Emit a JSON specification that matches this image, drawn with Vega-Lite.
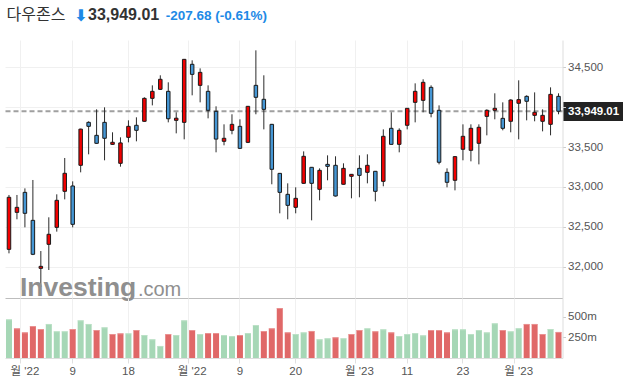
{
  "$schema": "https://vega.github.io/schema/vega-lite/v6.json",
  "padding": {"left": 4, "top": 6, "right": 0, "bottom": 0},
  "background": "white",
  "bounds": "flush",
  "spacing": 0,
  "config": {
    "view": {"stroke": null},
    "font": "Liberation Sans",
    "scale": {"bandPaddingInner": 0, "bandPaddingOuter": 0},
    "axis": {"labelFont": "Liberation Sans", "titleFont": "Liberation Sans"}
  },
  "datasets": {
    "ohlcv": [
      {"date": "2022-10-28", "open": 32217, "high": 32899, "low": 32167, "close": 32870, "volume": 469},
      {"date": "2022-10-31", "open": 32681, "high": 32899, "low": 32594, "close": 32744, "volume": 360},
      {"date": "2022-11-01", "open": 32932, "high": 32982, "low": 32493, "close": 32669, "volume": 311},
      {"date": "2022-11-02", "open": 32581, "high": 33087, "low": 32145, "close": 32155, "volume": 388},
      {"date": "2022-11-03", "open": 31979, "high": 32196, "low": 31745, "close": 32004, "volume": 352},
      {"date": "2022-11-04", "open": 32280, "high": 32619, "low": 31958, "close": 32406, "volume": 413},
      {"date": "2022-11-07", "open": 32493, "high": 32907, "low": 32439, "close": 32832, "volume": 324},
      {"date": "2022-11-08", "open": 32945, "high": 33363, "low": 32844, "close": 33171, "volume": 324},
      {"date": "2022-11-09", "open": 33012, "high": 33070, "low": 32493, "close": 32531, "volume": 352},
      {"date": "2022-11-10", "open": 33271, "high": 33730, "low": 33183, "close": 33725, "volume": 457},
      {"date": "2022-11-11", "open": 33810, "high": 33823, "low": 33409, "close": 33760, "volume": 413},
      {"date": "2022-11-14", "open": 33647, "high": 33973, "low": 33540, "close": 33547, "volume": 340},
      {"date": "2022-11-15", "open": 33810, "high": 33998, "low": 33334, "close": 33610, "volume": 372},
      {"date": "2022-11-16", "open": 33534, "high": 33685, "low": 33528, "close": 33560, "volume": 291},
      {"date": "2022-11-17", "open": 33296, "high": 33622, "low": 33254, "close": 33552, "volume": 299},
      {"date": "2022-11-18", "open": 33622, "high": 33835, "low": 33559, "close": 33760, "volume": 299},
      {"date": "2022-11-21", "open": 33773, "high": 33873, "low": 33572, "close": 33710, "volume": 340},
      {"date": "2022-11-22", "open": 33823, "high": 34124, "low": 33818, "close": 34111, "volume": 279},
      {"date": "2022-11-23", "open": 34111, "high": 34274, "low": 34023, "close": 34199, "volume": 227},
      {"date": "2022-11-25", "open": 34224, "high": 34400, "low": 34216, "close": 34350, "volume": 146},
      {"date": "2022-11-28", "open": 34199, "high": 34312, "low": 33810, "close": 33855, "volume": 291},
      {"date": "2022-11-29", "open": 33835, "high": 33936, "low": 33672, "close": 33862, "volume": 279},
      {"date": "2022-11-30", "open": 33810, "high": 34605, "low": 33597, "close": 34600, "volume": 457},
      {"date": "2022-12-01", "open": 34538, "high": 34588, "low": 34149, "close": 34412, "volume": 340},
      {"date": "2022-12-02", "open": 34274, "high": 34487, "low": 34061, "close": 34437, "volume": 291},
      {"date": "2022-12-05", "open": 34199, "high": 34274, "low": 33860, "close": 33961, "volume": 303},
      {"date": "2022-12-06", "open": 33948, "high": 34011, "low": 33434, "close": 33600, "volume": 303},
      {"date": "2022-12-07", "open": 33572, "high": 33785, "low": 33522, "close": 33610, "volume": 279},
      {"date": "2022-12-08", "open": 33710, "high": 33911, "low": 33660, "close": 33785, "volume": 267},
      {"date": "2022-12-09", "open": 33760, "high": 33848, "low": 33476, "close": 33484, "volume": 279},
      {"date": "2022-12-12", "open": 33559, "high": 34015, "low": 33550, "close": 34011, "volume": 303},
      {"date": "2022-12-13", "open": 34274, "high": 34713, "low": 33911, "close": 34124, "volume": 400},
      {"date": "2022-12-14", "open": 34099, "high": 34400, "low": 33722, "close": 33973, "volume": 328},
      {"date": "2022-12-15", "open": 33785, "high": 33790, "low": 33033, "close": 33221, "volume": 360},
      {"date": "2022-12-16", "open": 33170, "high": 33175, "low": 32669, "close": 32932, "volume": 607},
      {"date": "2022-12-19", "open": 32907, "high": 33045, "low": 32594, "close": 32769, "volume": 311},
      {"date": "2022-12-20", "open": 32744, "high": 32995, "low": 32669, "close": 32857, "volume": 291},
      {"date": "2022-12-21", "open": 33045, "high": 33446, "low": 33040, "close": 33384, "volume": 311},
      {"date": "2022-12-22", "open": 33246, "high": 33250, "low": 32581, "close": 33045, "volume": 328},
      {"date": "2022-12-23", "open": 32970, "high": 33233, "low": 32832, "close": 33208, "volume": 227},
      {"date": "2022-12-27", "open": 33283, "high": 33396, "low": 33083, "close": 33258, "volume": 239},
      {"date": "2022-12-28", "open": 33271, "high": 33384, "low": 32880, "close": 32886, "volume": 251},
      {"date": "2022-12-29", "open": 33033, "high": 33296, "low": 33030, "close": 33233, "volume": 239},
      {"date": "2022-12-30", "open": 33133, "high": 33162, "low": 32857, "close": 33158, "volume": 291},
      {"date": "2023-01-03", "open": 33233, "high": 33396, "low": 32870, "close": 33145, "volume": 340},
      {"date": "2023-01-04", "open": 33183, "high": 33409, "low": 33045, "close": 33271, "volume": 360},
      {"date": "2023-01-05", "open": 33196, "high": 33200, "low": 32819, "close": 32945, "volume": 324},
      {"date": "2023-01-06", "open": 33070, "high": 33722, "low": 33008, "close": 33635, "volume": 348},
      {"date": "2023-01-09", "open": 33735, "high": 33936, "low": 33530, "close": 33534, "volume": 311},
      {"date": "2023-01-10", "open": 33534, "high": 33735, "low": 33434, "close": 33710, "volume": 267},
      {"date": "2023-01-11", "open": 33773, "high": 33990, "low": 33722, "close": 33986, "volume": 291},
      {"date": "2023-01-12", "open": 34061, "high": 34299, "low": 33810, "close": 34199, "volume": 303},
      {"date": "2023-01-13", "open": 34086, "high": 34350, "low": 33936, "close": 34312, "volume": 275},
      {"date": "2023-01-17", "open": 34249, "high": 34274, "low": 33873, "close": 33923, "volume": 340},
      {"date": "2023-01-18", "open": 33961, "high": 34023, "low": 33283, "close": 33309, "volume": 340},
      {"date": "2023-01-19", "open": 33183, "high": 33233, "low": 32995, "close": 33058, "volume": 311},
      {"date": "2023-01-20", "open": 33083, "high": 33384, "low": 32957, "close": 33380, "volume": 348},
      {"date": "2023-01-23", "open": 33472, "high": 33785, "low": 33334, "close": 33635, "volume": 348},
      {"date": "2023-01-24", "open": 33459, "high": 33785, "low": 33321, "close": 33735, "volume": 291},
      {"date": "2023-01-25", "open": 33547, "high": 33785, "low": 33283, "close": 33748, "volume": 340},
      {"date": "2023-01-26", "open": 33885, "high": 33973, "low": 33647, "close": 33961, "volume": 311},
      {"date": "2023-01-27", "open": 33961, "high": 34174, "low": 33848, "close": 33986, "volume": 421},
      {"date": "2023-01-30", "open": 33860, "high": 34061, "low": 33710, "close": 33735, "volume": 340},
      {"date": "2023-01-31", "open": 33823, "high": 34099, "low": 33685, "close": 34090, "volume": 324},
      {"date": "2023-02-01", "open": 34049, "high": 34337, "low": 33597, "close": 34095, "volume": 360},
      {"date": "2023-02-02", "open": 34136, "high": 34149, "low": 33835, "close": 34074, "volume": 413},
      {"date": "2023-02-03", "open": 33898, "high": 34186, "low": 33823, "close": 33936, "volume": 413},
      {"date": "2023-02-06", "open": 33823, "high": 33973, "low": 33697, "close": 33898, "volume": 291},
      {"date": "2023-02-07", "open": 33785, "high": 34249, "low": 33647, "close": 34161, "volume": 352},
      {"date": "2023-02-08", "open": 34136, "high": 34174, "low": 33911, "close": 33949.01, "volume": 316}
    ]
  },
  "data": {"name": "ohlcv"},
  "vconcat": [
    {
      "width": 557.5,
      "height": 258,
      "resolve": {"axis": {"x": "independent", "y": "independent"}},
      "layer": [
        {
          "transform": [{"filter": "datum.date == '2023-02-08'"}],
          "mark": {"type": "rule", "strokeDash": [5, 3], "strokeWidth": 2, "color": "#a0a0a0"},
          "encoding": {
            "y": {
              "field": "close", "type": "quantitative",
              "scale": {"domain": [31606.9, 34842.8], "nice": false, "zero": false},
              "axis": {
                "orient": "right", "values": [33949.01], "format": ",.2f",
                "grid": false, "domain": false,
                "tickSize": 60, "tickWidth": 19, "tickColor": "#222222", "tickCap": "butt",
                "labelColor": "#ffffff", "labelFontSize": 11.5, "labelFontWeight": "bold",
                "labelPadding": -55, "labelAlign": "left", "labelBaseline": "middle",
                "title": "33,949.01", "titleX": -475, "titleY": -21, "titleAngle": 0,
                "titleAlign": "left", "titleBaseline": "alphabetic",
                "titleColor": "#333333", "titleFontSize": 16, "titleFontWeight": "bold"
              }
            }
          }
        },
        {
          "mark": {"type": "rule", "color": "#2b2b2b", "strokeWidth": 1},
          "encoding": {
            "x": {
              "field": "date", "type": "ordinal",
              "axis": {
                "orient": "bottom",
                "values": ["2022-11-01", "2022-12-01", "2023-01-03", "2023-02-01"],
                "bandPosition": 0, "labels": false, "ticks": false,
                "grid": true, "gridColor": "#f0f0f0",
                "domain": true, "domainColor": "#bdbdbd",
                "title": "다우존스", "titleX": 1, "titleY": -279, "titleAngle": 0,
                "titleAlign": "left", "titleBaseline": "alphabetic",
                "titleFont": "Noto Sans CJK KR", "titleFontSize": 16,
                "titleFontWeight": "normal", "titleColor": "#333333"
              }
            },
            "y": {
              "field": "low", "type": "quantitative",
              "axis": {
                "orient": "right", "values": [32000, 32500, 33000, 33500, 34000, 34500],
                "labelExpr": "datum.value == 34000 ? '' : format(datum.value, ',')",
                "grid": true, "gridColor": "#f0f0f0",
                "tickSize": 3, "tickColor": "#cccccc", "domainColor": "#dddddd",
                "labelColor": "#555555", "labelFontSize": 11.5, "labelPadding": 2,
                "title": "⬇", "titleX": -489, "titleY": -20, "titleAngle": 0,
                "titleAlign": "left", "titleBaseline": "alphabetic",
                "titleFont": "DejaVu Sans", "titleFontSize": 16, "titleFontWeight": "bold",
                "titleColor": "#1e8ae6"
              }
            },
            "y2": {"field": "high"}
          }
        },
        {
          "mark": {"type": "bar", "size": 3.5, "stroke": "#1a1a1a", "strokeWidth": 1},
          "encoding": {
            "x": {
              "field": "date", "type": "ordinal",
              "axis": {
                "orient": "bottom",
                "values": ["2022-11-09", "2022-11-18", "2022-12-09", "2022-12-20", "2023-01-11", "2023-01-23"],
                "bandPosition": 0.5, "labels": false, "ticks": false, "domain": false,
                "grid": true, "gridColor": "#f0f0f0", "title": null
              }
            },
            "y": {"field": "open", "type": "quantitative", "axis": null},
            "y2": {"field": "close"},
            "color": {"condition": {"test": "datum.close >= datum.open", "value": "#f20000"}, "value": "#4596d4"}
          }
        },
        {
          "transform": [{"filter": "datum.date == '2022-10-31'"}],
          "mark": {"type": "text", "text": "Investing", "font": "Liberation Sans", "fontSize": 26.5, "fontWeight": "bold", "color": "#8f8f8f", "align": "left", "baseline": "alphabetic", "dx": 3},
          "encoding": {
            "x": {"field": "date", "type": "ordinal", "axis": null},
            "y": {"datum": 31626, "type": "quantitative", "axis": null}
          }
        },
        {
          "transform": [{"filter": "datum.date == '2022-11-22'"}],
          "mark": {"type": "text", "text": ".com", "font": "Liberation Sans", "fontSize": 20, "color": "#8f8f8f", "align": "left", "baseline": "alphabetic", "dx": -6.5},
          "encoding": {
            "x": {"field": "date", "type": "ordinal", "axis": null},
            "y": {"datum": 31626, "type": "quantitative", "axis": null}
          }
        }
      ]
    },
    {
      "width": 557.5,
      "height": 60,
      "transform": [
        {"window": [{"op": "lag", "field": "close", "as": "prevClose"}], "sort": [{"field": "date", "order": "ascending"}]}
      ],
      "resolve": {"axis": {"x": "independent", "y": "independent"}},
      "layer": [
        {
          "mark": {"type": "bar", "size": 6},
          "encoding": {
            "x": {
              "field": "date", "type": "ordinal",
              "axis": {
                "orient": "bottom",
                "values": ["2022-11-09", "2022-11-18", "2022-12-09", "2022-12-20", "2023-01-11", "2023-01-23"],
                "bandPosition": 0.5,
                "labelExpr": "'' + toNumber(slice(datum.value, 8, 10))",
                "labelAngle": 0, "labelAlign": "center",
                "labelFont": "Liberation Sans, Noto Sans CJK KR",
                "labelColor": "#555555", "labelFontSize": 11.5, "labelPadding": 2,
                "ticks": true, "tickSize": 5, "tickColor": "#e0e0e0",
                "grid": true, "gridColor": "#f0f0f0",
                "domain": true, "domainColor": "#dddddd", "title": null
              }
            },
            "y": {
              "field": "volume", "type": "quantitative",
              "scale": {"domain": [0, 728], "nice": false, "zero": true},
              "axis": {
                "orient": "right", "values": [250, 500],
                "labelExpr": "datum.value + 'm'",
                "grid": false, "tickSize": 3, "tickColor": "#cccccc", "domainColor": "#dddddd",
                "labelColor": "#555555", "labelFontSize": 11.5, "labelPadding": 2,
                "title": "-207.68 (-0.61%)", "titleX": -397.2, "titleY": -279, "titleAngle": 0,
                "titleAlign": "left", "titleBaseline": "alphabetic",
                "titleColor": "#1e8ae6", "titleFontSize": 13.5, "titleFontWeight": "bold"
              }
            },
            "color": {"condition": {"test": "datum.prevClose == null || datum.close >= datum.prevClose", "value": "#a6d7b6"}, "value": "#e06868"}
          }
        },
        {
          "mark": {"type": "tick", "size": 6, "thickness": 1, "yOffset": 0.5},
          "encoding": {
            "x": {
              "field": "date", "type": "ordinal",
              "axis": {
                "orient": "bottom",
                "values": ["2022-11-01", "2022-12-01", "2023-01-03", "2023-02-01"],
                "bandPosition": 0,
                "labelExpr": "\"월 '\" + slice(datum.value, 2, 4)",
                "labelAngle": 0, "labelAlign": "center",
                "labelFont": "Liberation Sans, Noto Sans CJK KR",
                "labelColor": "#555555", "labelFontSize": 11.5, "labelPadding": 2,
                "ticks": true, "tickSize": 5, "tickColor": "#e0e0e0",
                "grid": true, "gridColor": "#f0f0f0",
                "domain": false, "title": null
              }
            },
            "y": {"field": "volume", "type": "quantitative", "axis": null},
            "color": {"condition": {"test": "datum.prevClose == null || datum.close >= datum.prevClose", "value": "#c4e6cd"}, "value": "#eea3a3"}
          }
        }
      ]
    }
  ]
}
